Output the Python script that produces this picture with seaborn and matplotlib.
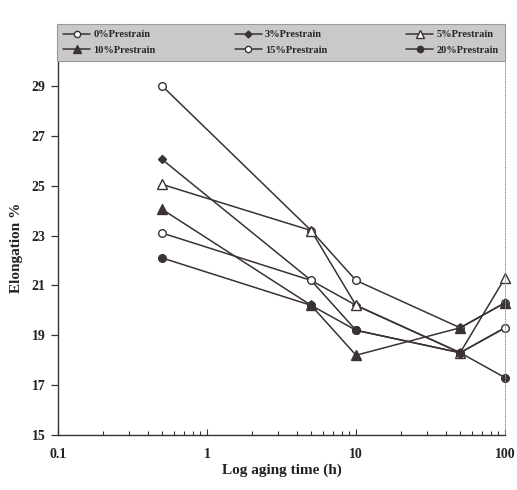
import numpy as np
import pandas as pd
import matplotlib
matplotlib.use("Agg")
import matplotlib.pyplot as plt
import seaborn as sns
from matplotlib.lines import Line2D
from matplotlib.ticker import FixedLocator, FixedFormatter, LogLocator, NullFormatter

# Data
aging_time = [0.5, 5, 10, 50, 100]
labels = ["0%Prestrain", "3%Prestrain", "5%Prestrain",
          "10%Prestrain", "15%Prestrain", "20%Prestrain"]
p0 = [29.0, 23.2, 21.2, 19.3, 20.3]
p3 = [26.05, 21.2, 20.2, 18.3, 19.3]
p5 = [25.05, 23.2, 20.2, 18.3, 21.3]
p10 = [24.05, 20.2, 18.2, 19.3, 20.3]
p15 = [23.1, 21.2, 19.2, 18.3, 19.3]
p20 = [22.1, 20.2, 19.2, 18.3, 17.3]
series = [p0, p3, p5, p10, p15, p20]
x_ticks = [0.1, 1, 10, 100]
x_ticklabels = ["0.1", "1", "10", "100"]
y_ticks = [15, 17, 19, 21, 23, 25, 27, 29]

sns.set_style("ticks")
plt.rcParams['font.family'] = ['Liberation Serif', 'DejaVu Serif']

col = "#3b3232"
styles = [
    dict(marker="o", mfc="white", ms=5.5),
    dict(marker="D", mfc=col, ms=4.5),
    dict(marker="^", mfc="white", ms=6.5),
    dict(marker="^", mfc=col, ms=6.5),
    dict(marker="o", mfc="white", ms=5.5),
    dict(marker="o", mfc=col, ms=5.5),
]

fig = plt.figure(figsize=(5.17, 4.90), dpi=100)
ax = fig.add_axes([58/517, 1-435/490, (505-58)/517, (435-61)/490])

rows = []
for lab, vals in zip(labels, series):
    for t, v in zip(aging_time, vals):
        rows.append({"time": t, "elong": v, "label": lab})
df = pd.DataFrame(rows)

handles = []
for lab, st in zip(labels, styles):
    sub = df[df["label"] == lab]
    sns.lineplot(data=sub, x="time", y="elong", ax=ax, color=col, lw=1.1,
                 marker=st["marker"], markersize=st["ms"],
                 markerfacecolor=st["mfc"], markeredgecolor=col,
                 markeredgewidth=1.0, legend=False, clip_on=False)
    handles.append(Line2D([], [], color=col, lw=1.1, marker=st["marker"],
                          markersize=st["ms"]-1, markerfacecolor=st["mfc"],
                          markeredgecolor=col, markeredgewidth=1.0))

ax.set_xscale("log")
ax.set_xlim(0.1, 100)
ax.set_ylim(15, 30)
ax.xaxis.set_major_locator(FixedLocator(x_ticks))
ax.xaxis.set_major_formatter(FixedFormatter(x_ticklabels))
ax.xaxis.set_minor_locator(LogLocator(base=10, subs=np.arange(2, 10)))
ax.xaxis.set_minor_formatter(NullFormatter())
ax.set_yticks(y_ticks)
ax.tick_params(axis="x", which="both", direction="in", length=4, width=0.8,
               colors="#333333", labelcolor="#222222", pad=9)
ax.tick_params(axis="x", which="minor", length=3)
ax.tick_params(axis="y", direction="out", length=5, width=0.9,
               colors="#333333", labelcolor="#222222", pad=4)
for lbl in ax.get_xticklabels() + ax.get_yticklabels():
    lbl.set_fontweight("bold")
    lbl.set_fontsize(10)

ax.set_xlabel("Log aging time (h)", fontsize=11, fontweight="bold", color="#222222", labelpad=2)
ax.set_ylabel("Elongation %", fontsize=11, fontweight="bold", color="#222222", labelpad=6)

ax.spines["top"].set_visible(False)
ax.spines["right"].set_visible(True)
ax.spines["right"].set_color("#9a9a9a")
ax.spines["right"].set_linewidth(0.7)
ax.spines["right"].set_linestyle(":")
ax.spines["left"].set_color("#333333")
ax.spines["bottom"].set_color("#333333")
ax.spines["left"].set_linewidth(1.0)
ax.spines["bottom"].set_linewidth(1.0)

# legend filled row-wise (3 columns, 2 rows)
order = [0, 3, 1, 4, 2, 5]
leg = fig.legend([handles[i] for i in order], [labels[i] for i in order],
                 ncol=3, loc="lower left",
                 bbox_to_anchor=(57/517, 1-61/490, (505-57)/517, 48/490),
                 mode="expand", frameon=True, fancybox=False,
                 facecolor="#c9c9c9", edgecolor="#9a9a9a",
                 prop={"family": "Liberation Serif", "weight": "bold", "size": 7.5},
                 handlelength=2.6, handletextpad=0.3, borderaxespad=0,
                 labelspacing=0.6, borderpad=0.6)
leg.get_frame().set_linewidth(0.8)
leg.get_frame().set_alpha(1)

fig.savefig("out.png", dpi=100)
